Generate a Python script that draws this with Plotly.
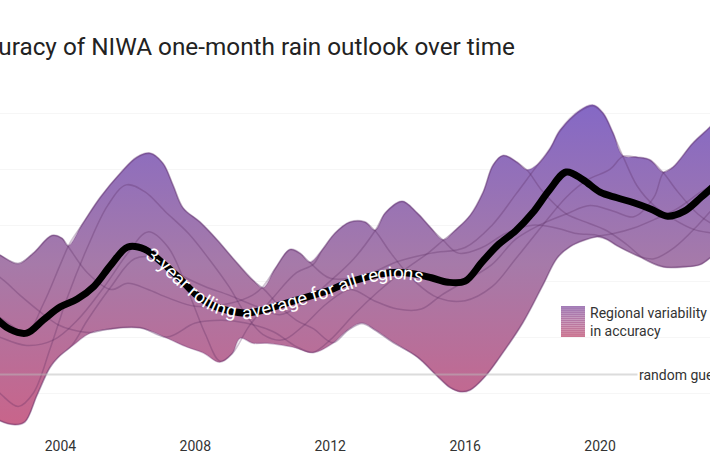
import numpy as np
import plotly.graph_objects as go

# ---------------- text ----------------
TITLE = "Accuracy of NIWA one-month rain outlook over time"
PATH_LABEL = "3-year rolling average for all regions"
LEGEND_LABEL = "Regional variability<br>in accuracy"
GUESS_LABEL = "random guess"

# ---------------- axes ----------------
tick_years = [2004, 2008, 2012, 2016, 2020]
tick_labels = ["2004", "2008", "2012", "2016", "2020"]
grid_values = [20, 30, 40, 50, 60, 70, 80]
random_guess = 33.3

# ---------------- data (accuracy %) ----------------
avg_years = [2002.0, 2002.5, 2003.0, 2003.5, 2004.0, 2004.5, 2005.0, 2005.5,
             2006.0, 2006.5, 2007.0, 2007.5, 2008.0, 2008.5, 2009.0, 2009.5,
             2010.0, 2010.5, 2011.0, 2011.5, 2012.0, 2012.5, 2013.0, 2013.5,
             2014.0, 2014.5, 2015.0, 2015.5, 2016.0, 2016.5, 2017.0, 2017.5,
             2018.0, 2018.5, 2019.0, 2019.5, 2020.0, 2020.5, 2021.0, 2021.5,
             2022.0, 2022.5, 2023.0, 2023.5]
avg_values = [43.9, 41.4, 40.7, 43.1, 45.4, 46.8, 49.1, 52.9,
              56.1, 55.7, 53.4, 50.7, 47.7, 45.7, 44.7, 44.3,
              44.8, 45.7, 46.6, 47.5, 48.4, 49.7, 50.6, 51.3,
              51.6, 51.3, 50.6, 49.8, 50.0, 53.4, 56.6, 59.0,
              62.2, 66.3, 69.5, 68.1, 65.9, 64.9, 64.0, 62.9,
              61.6, 62.5, 65.0, 67.7]

upper_years = [2001.92, 2002.21, 2002.75, 2003.19, 2003.75, 2004.05, 2004.23, 2004.67,
               2005.18, 2005.77, 2006.27, 2006.66, 2007.04, 2007.34, 2007.64, 2008.14,
               2008.65, 2009.12, 2009.71, 2010.01, 2010.37, 2010.81, 2011.11, 2011.40,
               2011.76, 2012.14, 2012.59, 2013.03, 2013.33, 2013.63, 2014.13, 2014.58,
               2014.96, 2015.35, 2015.70, 2016.15, 2016.53, 2016.83, 2017.13, 2017.54,
               2017.84, 2018.13, 2018.52, 2018.81, 2019.41, 2019.80, 2020.09, 2020.39,
               2020.68, 2021.10, 2021.48, 2021.87, 2022.16, 2022.75, 2023.26, 2023.56]
upper_values = [55.6, 54.7, 53.1, 55.0, 58.2, 57.7, 56.3, 60.4,
                65.0, 69.3, 72.2, 72.9, 71.1, 67.2, 63.1, 60.6,
                57.4, 54.1, 50.2, 48.8, 52.3, 55.7, 55.0, 53.4,
                55.6, 58.6, 60.6, 60.6, 59.1, 62.2, 64.3, 62.2,
                59.7, 57.4, 59.1, 61.8, 65.9, 70.8, 72.5, 71.3,
                69.9, 70.8, 73.8, 77.0, 80.6, 81.5, 80.1, 76.5,
                72.4, 72.2, 71.7, 69.5, 70.4, 74.7, 77.6, 79.7]

lower_years = [2001.92, 2002.21, 2002.66, 2002.95, 2003.31, 2003.69, 2003.93, 2004.35,
               2004.88, 2005.47, 2006.36, 2007.16, 2007.76, 2008.23, 2008.73, 2009.09,
               2009.33, 2009.71, 2010.13, 2010.90, 2011.49, 2012.08, 2012.53, 2012.94,
               2013.33, 2013.86, 2014.58, 2015.17, 2015.56, 2015.85, 2016.15, 2016.59,
               2017.03, 2017.71, 2018.31, 2018.73, 2019.11, 2019.50, 2019.91, 2020.21,
               2020.50, 2021.18, 2021.87, 2022.46, 2022.96, 2023.26, 2023.56]
lower_values = [26.1, 25.0, 24.3, 24.8, 29.6, 34.5, 36.3, 38.4,
                40.7, 41.4, 41.6, 39.8, 38.2, 37.2, 35.5, 37.0,
                39.8, 38.9, 38.9, 38.2, 37.2, 38.9, 41.3, 42.5,
                41.3, 39.1, 36.4, 33.0, 30.9, 30.2, 30.5, 32.9,
                36.4, 42.5, 49.3, 54.1, 56.1, 57.2, 57.9, 57.4,
                56.3, 54.3, 52.5, 52.5, 52.9, 54.1, 55.9]

# six regional series (approximate traces of the thin lines)
region1_years = [2001.5, 2001.92, 2002.21, 2002.75, 2003.19, 2003.75, 2004.05, 2004.23,
                 2004.8, 2005.5, 2006.0, 2006.6, 2007.2, 2008.0, 2009.0, 2009.7,
                 2010.0, 2010.37, 2010.81, 2011.11, 2011.40, 2012.0, 2013.0, 2014.0,
                 2015.0, 2016.0, 2016.8, 2017.5, 2018.13, 2018.52, 2018.81, 2019.41,
                 2019.80, 2020.09, 2020.39, 2020.68, 2021.1, 2021.6, 2022.2, 2022.8,
                 2023.3, 2024.0]
region1_values = [57.0, 55.5, 54.6, 53.2, 54.9, 58.1, 57.6, 56.2,
                  51.5, 48.5, 49.6, 48.5, 47.0, 45.5, 46.0, 47.5,
                  49.0, 52.2, 55.6, 54.9, 53.3, 50.5, 51.0, 53.5,
                  55.0, 56.0, 60.0, 65.5, 70.6, 73.6, 76.8, 80.4,
                  81.3, 79.9, 76.3, 72.3, 67.0, 63.5, 61.0, 59.2,
                  58.6, 58.0]

region2_years = [2001.5, 2002.2, 2003.0, 2003.5, 2004.0, 2004.3, 2004.67, 2005.18,
                 2005.77, 2006.27, 2006.66, 2007.04, 2007.34, 2007.64, 2008.14, 2008.65,
                 2009.12, 2009.71, 2010.01, 2010.5, 2011.0, 2011.5, 2012.08, 2012.53,
                 2012.94, 2013.33, 2013.86, 2014.58, 2015.17, 2015.56, 2015.85, 2016.15,
                 2016.59, 2017.03, 2017.71, 2018.31, 2018.73, 2019.11, 2019.5, 2019.91,
                 2020.4, 2021.0, 2021.6, 2022.3, 2023.0, 2023.6]
region2_values = [46.0, 43.5, 41.0, 46.0, 53.0, 57.0, 60.3, 64.9,
                  69.2, 72.1, 72.8, 71.0, 67.1, 63.0, 60.5, 57.3,
                  54.0, 50.1, 48.7, 45.5, 43.0, 41.5, 39.0, 41.2,
                  42.4, 41.2, 39.0, 36.5, 33.1, 31.0, 30.3, 30.6,
                  33.0, 36.5, 42.6, 49.4, 54.2, 56.2, 57.3, 58.0,
                  58.5, 59.5, 61.0, 63.0, 66.0, 68.0]

region3_years = [2001.5, 2002.2, 2002.75, 2003.2, 2003.7, 2004.2, 2004.8, 2005.4,
                 2005.95, 2006.5, 2007.1, 2007.8, 2008.4, 2009.0, 2009.5, 2010.0,
                 2010.6, 2011.2, 2011.9, 2012.6, 2013.3, 2014.0, 2014.7, 2015.3,
                 2016.0, 2016.8, 2017.5, 2018.2, 2019.0, 2019.7, 2020.4, 2021.0,
                 2021.6, 2021.87, 2022.16, 2022.75, 2023.26, 2023.56, 2024.0]
region3_values = [34.0, 30.0, 27.6, 30.0, 38.0, 47.0, 56.0, 63.5,
                  67.2, 66.0, 62.5, 58.5, 54.0, 49.0, 44.0, 40.5,
                  39.5, 42.0, 46.0, 48.5, 46.5, 45.0, 45.0, 47.5,
                  50.0, 53.0, 57.5, 60.0, 62.0, 63.5, 62.5, 61.5,
                  65.0, 69.3, 70.3, 74.6, 77.5, 79.6, 82.0]

region4_years = [2001.5, 2002.2, 2003.0, 2003.8, 2004.5, 2005.3, 2006.0, 2006.6,
                 2007.2, 2007.8, 2008.3, 2008.73, 2009.09, 2009.6, 2010.3, 2011.0,
                 2011.5, 2011.76, 2012.14, 2012.59, 2013.03, 2013.33, 2013.8, 2014.5,
                 2015.2, 2016.0, 2016.8, 2017.5, 2018.3, 2019.0, 2019.6, 2020.3,
                 2020.68, 2021.10, 2021.48, 2021.87, 2022.3, 2022.9, 2023.4, 2024.0]
region4_values = [42.0, 40.0, 38.5, 39.5, 43.0, 49.0, 55.0, 58.8,
                  56.0, 48.0, 40.5, 35.7, 37.0, 42.0, 47.0, 51.5,
                  53.0, 55.5, 58.5, 60.5, 60.5, 59.0, 55.0, 50.0,
                  47.0, 46.5, 49.0, 54.0, 60.0, 65.0, 68.0, 70.0,
                  72.3, 72.1, 71.6, 69.4, 66.0, 62.0, 60.0, 59.0]

region5_years = [2001.5, 2001.92, 2002.21, 2002.66, 2002.95, 2003.31, 2003.69, 2003.93,
                 2004.35, 2004.8, 2005.5, 2006.2, 2006.9, 2007.6, 2008.3, 2009.0,
                 2009.8, 2010.5, 2011.2, 2012.0, 2012.7, 2013.33, 2013.63, 2014.13,
                 2014.58, 2014.96, 2015.35, 2015.8, 2016.5, 2017.2, 2018.0, 2018.7,
                 2019.3, 2019.9, 2020.21, 2020.5, 2021.18, 2021.6, 2022.2, 2022.9,
                 2023.5, 2024.0]
region5_values = [29.0, 26.2, 25.1, 24.4, 24.9, 29.7, 34.6, 36.4,
                  38.6, 43.0, 49.0, 54.0, 54.0, 51.0, 49.0, 47.5,
                  45.5, 44.0, 46.0, 50.0, 54.0, 59.0, 62.1, 64.2,
                  62.1, 59.6, 57.3, 55.0, 56.0, 58.5, 60.0, 59.5,
                  58.5, 58.2, 57.5, 56.4, 54.4, 54.0, 56.0, 60.0,
                  64.0, 67.0]

region6_years = [2001.5, 2002.2, 2002.8, 2003.4, 2003.93, 2004.35, 2004.88, 2005.47,
                 2006.36, 2007.16, 2008.0, 2008.8, 2009.5, 2010.3, 2011.0, 2011.49,
                 2012.0, 2012.7, 2013.4, 2014.2, 2014.9, 2015.35, 2015.70, 2016.15,
                 2016.53, 2016.83, 2017.13, 2017.54, 2017.84, 2018.3, 2019.0, 2019.6,
                 2020.2, 2020.8, 2021.3, 2021.87, 2022.46, 2022.96, 2023.26, 2023.56,
                 2024.0]
region6_values = [53.0, 50.7, 47.5, 44.5, 42.2, 41.3, 40.8, 41.5,
                  41.7, 40.0, 42.5, 43.0, 42.5, 41.0, 38.3, 37.3,
                  39.5, 44.0, 48.0, 52.0, 55.0, 57.3, 59.0, 61.7,
                  65.8, 70.7, 72.4, 71.2, 69.8, 66.0, 62.0, 60.5,
                  59.0, 56.5, 54.0, 52.6, 52.6, 53.0, 54.2, 56.0,
                  58.0]

regions = [(region1_years, region1_values), (region2_years, region2_values),
           (region3_years, region3_values), (region4_years, region4_values),
           (region5_years, region5_values), (region6_years, region6_values)]

# ---------------- style ----------------
W, H = 710, 473
X_RANGE = [2002.21, 2023.26]
Y_RANGE = [15.70, 100.25]
FONT = "Roboto, 'Open Sans', sans-serif"
BAND_SCALE = [[0.0, "#c9648a"], [0.5, "#a67aa9"], [1.0, "#8468c6"]]
EDGE = "rgba(105,60,120,0.30)"
REGION_LINE = "rgba(85,40,95,0.28)"

fig = go.Figure()

fig.add_trace(go.Scatter(x=lower_years, y=lower_values, mode="lines",
                         line=dict(color=EDGE, width=1.5, shape="spline", smoothing=1),
                         hoverinfo="skip", showlegend=False))
fig.add_trace(go.Scatter(x=upper_years, y=upper_values, mode="lines",
                         line=dict(color=EDGE, width=1.5, shape="spline", smoothing=1),
                         fill="tonexty",
                         fillgradient=dict(type="vertical", colorscale=BAND_SCALE,
                                           start=24, stop=82),
                         hoverinfo="skip", showlegend=False))
for ry, rv in regions:
    fig.add_trace(go.Scatter(x=ry, y=rv, mode="lines",
                             line=dict(color=REGION_LINE, width=1.5, shape="spline", smoothing=1),
                             hoverinfo="skip", showlegend=False))
fig.add_trace(go.Scatter(x=avg_years, y=avg_values, mode="lines",
                         line=dict(color="black", width=7, shape="spline", smoothing=1),
                         hoverinfo="skip", showlegend=False))

# ---------------- text along the rolling-average line ----------------
X0, X1 = X_RANGE
Y0, Y1 = Y_RANGE


def to_px(yr, v):
    return (np.asarray(yr) - X0) / (X1 - X0) * W, (Y1 - np.asarray(v)) / (Y1 - Y0) * H


def from_px(px, py):
    return X0 + px / W * (X1 - X0), Y1 - py / H * (Y1 - Y0)


dense_years = np.linspace(avg_years[0], avg_years[-1], 4000)
dense_vals = np.interp(dense_years, avg_years, avg_values)
kern = np.exp(-0.5 * (np.arange(-120, 121) / 45.0) ** 2)
kern /= kern.sum()
dense_vals = np.convolve(np.pad(dense_vals, 120, mode="edge"), kern, mode="valid")
px, py = to_px(dense_years, dense_vals)
seg = np.hypot(np.diff(px), np.diff(py))
arc = np.concatenate([[0], np.cumsum(seg)])
ang = np.degrees(np.arctan2(np.gradient(py), np.gradient(px)))

EM = {" ": .248, "3": .562, "-": .276, "y": .474, "e": .529, "a": .544, "r": .338,
      "o": .570, "l": .242, "i": .243, "n": .552, "g": .560, "v": .484, "f": .347,
      "s": .516}
PATH_FONT = 19
s = float(np.interp(148.0, px, arc))
annotations = []
for ch in PATH_LABEL:
    w = EM.get(ch, 0.5) * PATH_FONT
    sc = s + w / 2
    cx = float(np.interp(sc, arc, px))
    cy = float(np.interp(sc, arc, py))
    a = float(np.interp(sc, arc, ang))
    yr, v = from_px(cx, cy)
    if ch != " ":
        annotations.append(dict(x=yr, y=v, xref="x", yref="y", text=ch, showarrow=False,
                                textangle=a, xanchor="center", yanchor="middle",
                                font=dict(family=FONT, size=PATH_FONT, color="white")))
    s += w

# title (cut off at the left, as in the reference)
annotations.append(dict(x=-45.5 / W, y=1 - 46.8 / H, xref="paper", yref="paper",
                        text=TITLE, showarrow=False, xanchor="left", yanchor="middle",
                        font=dict(family=FONT, size=24.3, color="#222222")))
# legend label
annotations.append(dict(x=588 / W, y=1 - 322 / H, xref="paper", yref="paper",
                        text=LEGEND_LABEL, showarrow=False, xanchor="left", yanchor="middle",
                        align="left", font=dict(family=FONT, size=14, color="#333333")))
# random guess label
annotations.append(dict(x=637 / W, y=random_guess, xref="paper", yref="y",
                        text=GUESS_LABEL, showarrow=False, xanchor="left", yanchor="middle",
                        bgcolor="white", borderpad=1,
                        font=dict(family=FONT, size=14, color="#333333")))

shapes = [dict(type="line", xref="paper", yref="y", x0=0, x1=1,
               y0=random_guess, y1=random_guess, layer="above",
               line=dict(color="rgba(185,185,185,0.5)", width=2))]

# legend swatch with a vertical gradient
top_c = np.array([163, 124, 182])
bot_c = np.array([203, 118, 146])
n = 16
sy0, sy1 = 306.0, 337.0
for i in range(n):
    t = i / (n - 1)
    c = top_c + (bot_c - top_c) * t
    ya = sy0 + (sy1 - sy0) * i / n
    yb = sy0 + (sy1 - sy0) * (i + 1) / n
    shapes.append(dict(type="rect", xref="paper", yref="paper",
                       x0=561 / W, x1=585 / W, y0=1 - ya / H, y1=1 - yb / H,
                       line=dict(width=0),
                       fillcolor="rgb(%d,%d,%d)" % tuple(c.astype(int))))

fig.update_layout(
    width=W, height=H, margin=dict(l=0, r=0, t=0, b=0),
    paper_bgcolor="white", plot_bgcolor="white",
    showlegend=False, annotations=annotations, shapes=shapes,
    xaxis=dict(range=X_RANGE, tickvals=tick_years, ticktext=tick_labels,
               showgrid=False, zeroline=False, showline=False, ticks="",
               ticklabelposition="inside", ticklabelstandoff=16,
               tickfont=dict(family=FONT, size=14, color="#333333")),
    yaxis=dict(range=Y_RANGE, tickvals=grid_values, showticklabels=False,
               showgrid=True, gridcolor="#f6f6f6", gridwidth=1,
               zeroline=False, showline=False, ticks=""),
)

fig.write_html("out.html", config={"displayModeBar": False},
               post_script="document.body.style.margin='0px';"
                           "document.documentElement.style.overflow='hidden';")
